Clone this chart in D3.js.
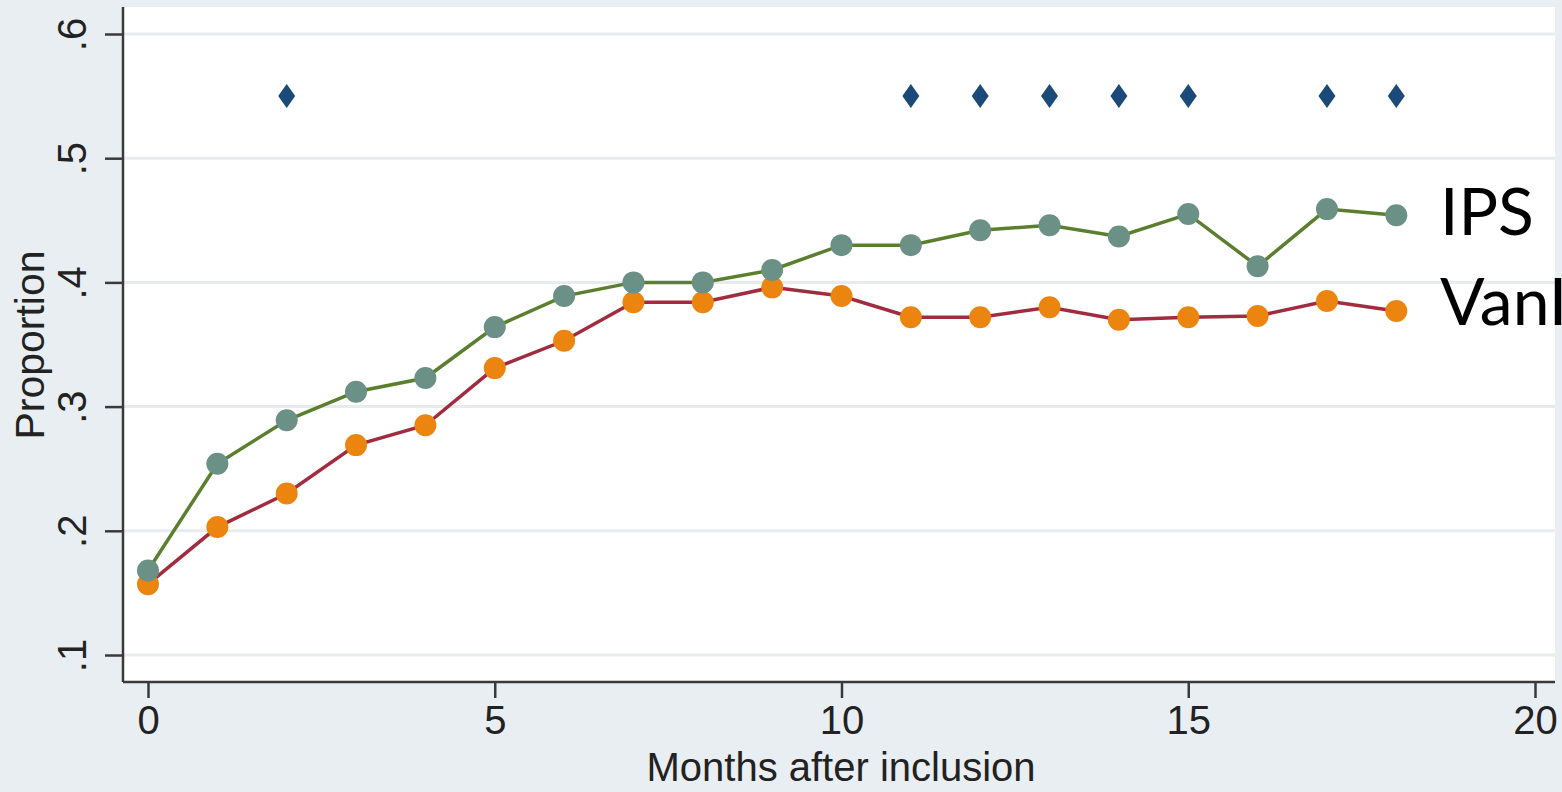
<!DOCTYPE html>
<html>
<head>
<meta charset="utf-8">
<script src="https://cdn.jsdelivr.net/npm/d3@7/dist/d3.min.js"></script>
<style>
  html, body { margin: 0; padding: 0; background: #e9eef2; }
  svg { display: block; }
</style>
</head>
<body>
<div class="vis-line"></div>
<script>
// data
const months = [0, 1, 2, 3, 4, 5, 6, 7, 8, 9, 10, 11, 12, 13, 14, 15, 16, 17, 18];
const ips = [0.168, 0.254, 0.289, 0.312, 0.323, 0.364, 0.389, 0.400, 0.400, 0.410,
  0.430, 0.430, 0.442, 0.446, 0.437, 0.455, 0.413, 0.459, 0.454];
const vanl = [0.157, 0.203, 0.230, 0.269, 0.285, 0.331, 0.353, 0.384, 0.384, 0.396,
  0.389, 0.372, 0.372, 0.380, 0.370, 0.372, 0.373, 0.385, 0.377];
const sigMonths = [2, 11, 12, 13, 14, 15, 17, 18];
const sigLevel = 0.55;
const yTicks = [0.1, 0.2, 0.3, 0.4, 0.5, 0.6];
const xTicks = [0, 5, 10, 15, 20];
const seriesNames = ['IPS', 'VanI'];

const width = 1562;
const height = 792;
const plot = { left: 123, right: 1555, top: 7, bottom: 682 };
const font = 'Liberation Sans, Arial, sans-serif';

const svg = d3.select('.vis-line')
  .append('svg')
  .attr('width', width)
  .attr('height', height);

const x = d3.scaleLinear().domain([0, 20]).range([148, 1535]);
const y = d3.scaleLinear().domain([0.1, 0.6]).range([655, 34]);

// white plot region
svg.append('rect')
  .attr('x', plot.left)
  .attr('y', plot.top)
  .attr('width', plot.right - plot.left)
  .attr('height', plot.bottom - plot.top)
  .attr('fill', '#fff');

// grid
svg.append('g')
  .selectAll('line')
  .data(yTicks)
  .enter()
  .append('line')
  .attr('x1', plot.left)
  .attr('x2', plot.right)
  .attr('y1', (d) => y(d))
  .attr('y2', (d) => y(d))
  .attr('stroke', '#e8ebed')
  .attr('stroke-width', 3);

const fmt = (d) => d3.format('.1f')(d).replace(/^0/, '');

// y axis, labels turned to read bottom-up
const yAxis = svg.append('g')
  .attr('transform', `translate(${plot.left},0)`)
  .call(d3.axisLeft(y).tickValues(yTicks).tickFormat(fmt).tickSize(18));
yAxis.select('.domain')
  .attr('d', `M0,${plot.top}V${plot.bottom}`)
  .attr('stroke', '#3a3a3a')
  .attr('stroke-width', 2.5);
yAxis.selectAll('.tick line').attr('stroke', '#3a3a3a').attr('stroke-width', 2.5);
yAxis.selectAll('.tick text')
  .attr('font-family', font)
  .attr('font-size', 40)
  .attr('fill', '#222')
  .attr('x', 0)
  .attr('y', 0)
  .attr('text-anchor', 'middle')
  .attr('dy', '0.35em')
  .attr('transform', 'translate(-51,0) rotate(-90)');

// x axis
const xAxis = svg.append('g')
  .attr('transform', `translate(0,${plot.bottom})`)
  .call(d3.axisBottom(x).tickValues(xTicks).tickSize(16).tickPadding(8));
xAxis.select('.domain')
  .attr('d', `M${plot.left},0H${plot.right}`)
  .attr('stroke', '#3a3a3a')
  .attr('stroke-width', 2.5);
xAxis.selectAll('.tick line').attr('stroke', '#3a3a3a').attr('stroke-width', 2.5);
xAxis.selectAll('.tick text')
  .attr('font-family', font)
  .attr('font-size', 40)
  .attr('fill', '#222');

// axis titles
svg.append('text')
  .attr('transform', 'translate(44,345) rotate(-90)')
  .attr('text-anchor', 'middle')
  .attr('font-family', font)
  .attr('font-size', 41)
  .attr('fill', '#222')
  .text('Proportion');

svg.append('text')
  .attr('x', 841)
  .attr('y', 781)
  .attr('text-anchor', 'middle')
  .attr('font-family', font)
  .attr('font-size', 40)
  .attr('fill', '#222')
  .text('Months after inclusion');

// series
const series = [
  { name: seriesNames[0], values: ips, line: '#5b7f2e', dot: '#6b9085' },
  { name: seriesNames[1], values: vanl, line: '#a12c3f', dot: '#ec8410' },
];

const line = d3.line()
  .x((d, i) => x(months[i]))
  .y((d) => y(d));

series.forEach((s) => {
  svg.append('path')
    .datum(s.values)
    .attr('d', line)
    .attr('fill', 'none')
    .attr('stroke', s.line)
    .attr('stroke-width', 3.5);
});

// VanI dots first, IPS on top
[series[1], series[0]].forEach((s) => {
  svg.append('g')
    .selectAll('circle')
    .data(s.values)
    .enter()
    .append('circle')
    .attr('cx', (d, i) => x(months[i]))
    .attr('cy', (d) => y(d))
    .attr('r', 11)
    .attr('fill', s.dot);
});

// significance markers
svg.append('g')
  .selectAll('path')
  .data(sigMonths)
  .enter()
  .append('path')
  .attr('transform', (d) => `translate(${x(d)},${y(sigLevel)})`)
  .attr('d', 'M0,-12L8.5,0L0,12L-8.5,0Z')
  .attr('fill', '#1b4a78');

// series labels overlaid at right
svg.append('text')
  .attr('x', 1440)
  .attr('y', 235)
  .attr('font-family', 'Lato, Open Sans, sans-serif')
  .attr('font-size', 66)
  .attr('fill', '#000')
  .text(seriesNames[0]);

svg.append('text')
  .attr('x', 1440)
  .attr('y', 325)
  .attr('font-family', 'Lato, Open Sans, sans-serif')
  .attr('font-size', 66)
  .attr('fill', '#000')
  .text(seriesNames[1]);
</script>
</body>
</html>
